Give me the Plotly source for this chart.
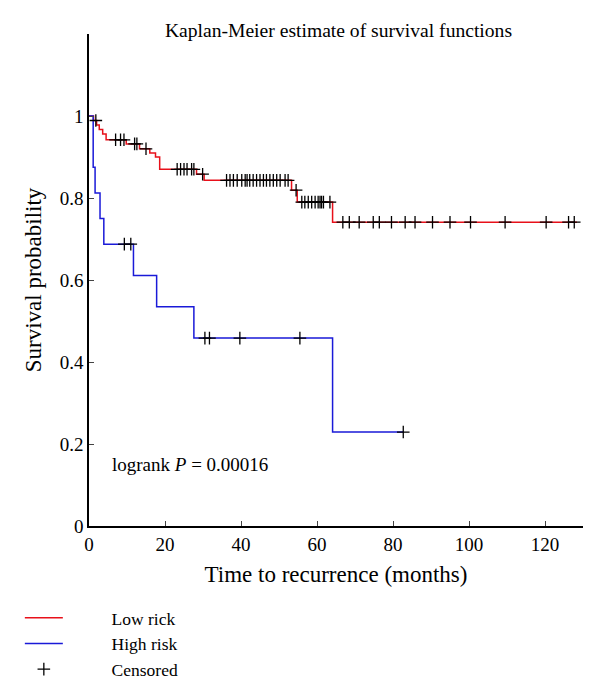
import plotly.graph_objects as go

# ---- data ----
low_times = [0, 1.2, 2.0, 2.7, 3.6, 4.5, 9.8, 13.3, 16.0, 17.5, 18.6, 28.3, 30.3, 53.3, 54.8, 64.1, 128.4]
low_surv = [1.0, 0.989, 0.978, 0.967, 0.956, 0.942, 0.932, 0.920, 0.910, 0.900, 0.870, 0.858, 0.843, 0.819, 0.790, 0.741, 0.741]
low_censored = [1.8, 7.0, 8.3, 9.2, 12.0, 12.6, 15.0, 23.2, 24.1, 25.0, 25.8, 27.0, 27.6, 29.9,
                36.2, 37.1, 38.0, 39.0, 40.2, 41.1, 41.6, 42.3, 43.2, 44.1, 45.0, 45.9, 46.7, 47.6,
                48.5, 49.4, 50.3, 51.6, 52.4, 54.5, 56.0, 56.8, 57.7, 58.6, 59.5, 60.3, 60.8, 61.2,
                61.7, 63.4, 66.8, 68.5, 71.1, 74.8, 76.4, 79.6, 83.2, 85.8, 90.4, 95.0, 100.4, 109.5,
                120.3, 126.2, 127.7]

high_times = [0, 1.1, 1.6, 2.9, 3.9, 11.7, 17.8, 27.6, 64.1, 82.7]
high_surv = [1.0, 0.875, 0.8125, 0.75, 0.6875, 0.6111, 0.5347, 0.4583, 0.2292, 0.2292]
high_censored = [9.3, 11.0, 30.5, 31.7, 39.7, 55.5, 82.7]

x_ticks = [0, 20, 40, 60, 80, 100, 120]
y_ticks = [0, 0.2, 0.4, 0.6, 0.8, 1.0]
y_tick_labels = ["0", "0.2", "0.4", "0.6", "0.8", "1"]

legend_names = ["Low rick", "High risk", "Censored"]


def step_value(times, surv, t):
    v = surv[0]
    for ti, si in zip(times, surv):
        if ti <= t:
            v = si
        else:
            break
    return v


cens_x = low_censored + high_censored
cens_y = [step_value(low_times, low_surv, t) for t in low_censored] + \
         [step_value(high_times, high_surv, t) for t in high_censored]

FONT = "Liberation Serif"
FS = 19
LFS = 17.5
PAD = "\u00a0" * 10

fig = go.Figure()
fig.add_trace(go.Scatter(x=low_times, y=low_surv, mode="lines", line_shape="hv",
                         line=dict(color="#e8101a", width=1.5), name=PAD + legend_names[0]))
fig.add_trace(go.Scatter(x=high_times, y=high_surv, mode="lines", line_shape="hv",
                         line=dict(color="#1a1ad8", width=1.5), name=PAD + legend_names[1]))
fig.add_trace(go.Scatter(x=cens_x, y=cens_y, mode="markers", name=PAD + legend_names[2],
                         marker=dict(symbol="cross-thin", size=9, color="black",
                                     line=dict(color="black", width=1.3))))

fig.add_annotation(x=5.5, y=0.151, xref="x", yref="y", xanchor="left", yanchor="middle",
                   text="logrank <i>P</i> = 0.00016", showarrow=False,
                   font=dict(family=FONT, size=FS, color="black"))

fig.update_layout(
    width=600, height=697,
    margin=dict(l=81, r=25, t=26, b=179, autoexpand=False),
    paper_bgcolor="white", plot_bgcolor="white",
    font=dict(family=FONT, size=FS, color="black"),
    title=dict(text="Kaplan-Meier estimate of survival functions", xref="paper", x=0.505,
               xanchor="center", y=1 - 22 / 697, yanchor="middle",
               font=dict(family=FONT, size=19.6)),
    showlegend=True,
    legend=dict(x=-0.14, xanchor="left", y=-0.15, yanchor="top", bgcolor="rgba(0,0,0,0)",
                font=dict(family=FONT, size=LFS), itemwidth=38, tracegroupgap=0),
)
fig.update_xaxes(range=[0, 130], tickvals=x_ticks, ticks="inside", ticklen=5, tickwidth=1.2,
                 showline=True, linecolor="black", linewidth=1.5, showgrid=False, zeroline=False,
                 title=dict(text="Time to recurrence (months)", standoff=12),
                 tickfont=dict(family=FONT, size=FS))
fig.update_yaxes(range=[0, 1.2], tickvals=y_ticks, ticktext=y_tick_labels, ticks="inside",
                 ticklen=5, tickwidth=1.2, showline=True, linecolor="black", linewidth=1.5,
                 showgrid=False, zeroline=False,
                 title=dict(text="Survival probability", standoff=12),
                 tickfont=dict(family=FONT, size=FS))

fig.write_html("out.html")
